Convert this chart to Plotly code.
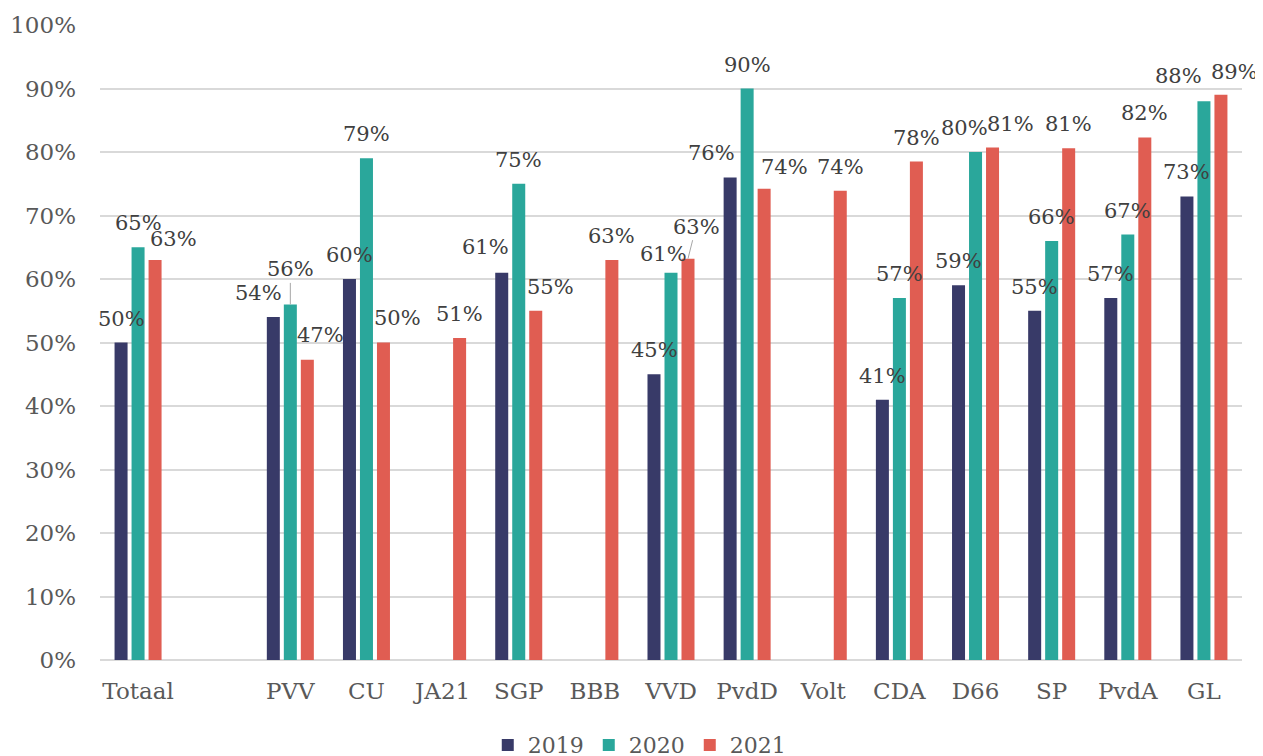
import plotly.graph_objects as go

# ---- data ----
categories = ["Totaal", " ", "PVV", "CU", "JA21", "SGP", "BBB", "VVD", "PvdD",
              "Volt", "CDA", "D66", "SP", "PvdA", "GL"]
years = ["2019", "2020", "2021"]
v2019 = [50, None, 54, 60, None, 61, None, 45, 76, None, 41, 59, 55, 57, 73]
v2020 = [65, None, 56, 79, None, 75, None, 61, 90, None, 57, 80, 66, 67, 88]
v2021 = [63, None, 47.3, 50, 50.7, 55, 63, 63.2, 74.2, 73.9, 78.5, 80.7, 80.6, 82.3, 89]

# ---- style ----
colors = ["#383a68", "#2aa79b", "#e05d52"]
FONT = "DejaVu Serif"
bar_offset = {"2019": -17, "2020": 0, "2021": 17}
label_adjust = {  # (dx, dy_up) in px for overlapping labels
    ("Totaal", "2021"): (18, -3),
    ("PVV", "2019"): (-15, 0),
    ("PVV", "2021"): (13, 1),
    ("CU", "2021"): (14, 1),
    ("SGP", "2019"): (-16, 2),
    ("SGP", "2021"): (15, 0),
    ("VVD", "2020"): (-8, -5),
    ("PvdD", "2019"): (-19, 0),
    ("PvdD", "2021"): (20, -2),
    ("D66", "2020"): (-11, 0),
    ("D66", "2021"): (18, 0),
    ("GL", "2020"): (-25, 1),
    ("GL", "2021"): (14, -1),
}
leader = {("PVV", "2020"): (0, -35), ("VVD", "2021"): (8, -32)}

fig = go.Figure()
series = [v2019, v2020, v2021]
for yr, vals, col in zip(years, series, colors):
    fig.add_trace(go.Bar(x=categories, y=vals, name=yr, marker_color=col,
                         marker_line_width=0, hoverinfo="skip"))

annotations = []
for yr, vals in zip(years, series):
    for cat, v in zip(categories, vals):
        if v is None:
            continue
        txt = f"{round(v):d}%"
        base = dict(x=cat, y=v, xref="x", yref="y", text=txt,
                    font=dict(family=FONT, size=21, color="#404040"))
        if (cat, yr) in leader:
            ax, ay = leader[(cat, yr)]
            annotations.append(dict(**base, xshift=bar_offset[yr], showarrow=True,
                                    ax=ax, ay=ay, arrowhead=0, arrowwidth=1,
                                    arrowcolor="#a6a6a6", standoff=0, startstandoff=0))
        else:
            dx, dy = label_adjust.get((cat, yr), (0, 0))
            annotations.append(dict(**base, showarrow=False, xshift=bar_offset[yr] + dx,
                                    yshift=24 + dy, yanchor="middle"))

fig.update_layout(
    width=1255, height=756,
    margin=dict(l=92, r=21, t=17, b=104, autoexpand=False),
    paper_bgcolor="white", plot_bgcolor="white",
    barmode="group", bargap=0.33, bargroupgap=0.235,
    font=dict(family=FONT, color="#595959"),
    annotations=annotations,
    legend=dict(orientation="h", xref="container", yref="container",
                x=0.503, xanchor="center", y=0.025, yanchor="middle",
                font=dict(family=FONT, size=22, color="#595959"),
                itemwidth=30, tracegroupgap=0),
    showlegend=True,
)
fig.update_xaxes(type="category", categoryorder="array", categoryarray=categories,
                 range=[-0.5, len(categories) - 0.5], autorange=False,
                 automargin=False,
                 showgrid=False, showline=False, ticks="",
                 tickfont=dict(family=FONT, size=23, color="#595959"),
                 ticklabelstandoff=15)
fig.update_yaxes(range=[0, 100], autorange=False, automargin=False,
                 dtick=10, ticksuffix="%", showgrid=True,
                 gridcolor="#d9d9d9", gridwidth=2, zeroline=True,
                 zerolinecolor="#d9d9d9", zerolinewidth=2, showline=False,
                 tickfont=dict(family=FONT, size=23, color="#595959"),
                 ticklabelstandoff=23)

fig.write_html("out.html")
